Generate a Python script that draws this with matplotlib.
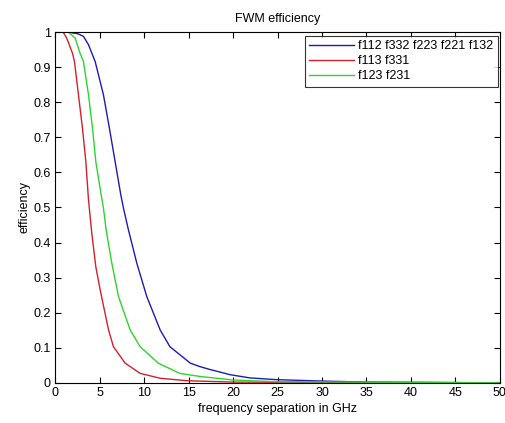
import matplotlib
matplotlib.use("Agg")
import matplotlib.pyplot as plt

# values
x_blue = [0, 1.5, 2.6, 3.18, 3.75, 4.5, 5.43, 6.1, 6.74, 7.38, 7.68, 8.24, 9.18, 10.3,
          11.8, 12.9, 15.2, 16.3, 17.4, 19.7, 21.9, 24.9, 30, 35, 50]
y_blue = [1.0, 1.0, 0.995, 0.988, 0.964, 0.916, 0.821, 0.726, 0.631, 0.536, 0.498, 0.436, 0.341, 0.246,
          0.151, 0.103, 0.056, 0.046, 0.038, 0.023, 0.014, 0.009, 0.005, 0.002, 0.0]

x_red = [0, 0.9, 1.3, 1.95, 2.17, 2.62, 3.07, 3.45, 3.75, 4.12, 4.57, 5.06, 6.0, 6.55,
         7.87, 9.55, 11.8, 14.8, 20, 50]
y_red = [1.0, 1.0, 0.983, 0.94, 0.916, 0.821, 0.726, 0.631, 0.521, 0.426, 0.331, 0.265, 0.151, 0.103,
         0.056, 0.027, 0.013, 0.006, 0.002, 0.0]

x_green = [0, 1.5, 2.25, 2.8, 3.18, 3.75, 4.2, 4.57, 5.17, 5.43, 5.73, 6.37, 7.12, 8.43,
           9.55, 11.6, 14.0, 16.3, 20, 25, 50]
y_green = [1.0, 1.0, 0.983, 0.94, 0.916, 0.821, 0.726, 0.631, 0.536, 0.498, 0.436, 0.341, 0.246, 0.151,
           0.103, 0.056, 0.027, 0.018, 0.008, 0.003, 0.0]

labels = ["f112 f332 f223 f221 f132", "f113 f331", "f123 f231"]
xticks = [0, 5, 10, 15, 20, 25, 30, 35, 40, 45, 50]
yticks = [0, 0.1, 0.2, 0.3, 0.4, 0.5, 0.6, 0.7, 0.8, 0.9, 1]
ytick_labels = ["0", "0.1", "0.2", "0.3", "0.4", "0.5", "0.6", "0.7", "0.8", "0.9", "1"]

plt.rcParams["font.family"] = ["Liberation Sans", "DejaVu Sans"]
plt.rcParams["font.size"] = 9

fig = plt.figure(figsize=(5.06, 4.23), dpi=100)
ax = fig.add_axes([0.109, 0.095, 0.879, 0.829])

ax.plot(x_blue, y_blue, color="#1c1cb4", linewidth=1.0, label=labels[0])
ax.plot(x_red, y_red, color="#d4202c", linewidth=1.0, label=labels[1])
ax.plot(x_green, y_green, color="#2ed42e", linewidth=1.0, label=labels[2])

ax.set_xlim(0, 50)
ax.set_ylim(0, 1)
ax.set_xticks(xticks)
ax.set_yticks(yticks)
ax.set_yticklabels(ytick_labels)
ax.tick_params(direction="in", top=True, right=True, length=4, width=0.8, pad=3)
for s in ax.spines.values():
    s.set_linewidth(0.8)

ax.set_title("FWM efficiency", fontsize=9, pad=7)
ax.set_xlabel("frequency separation in GHz", labelpad=3)
ax.set_ylabel("efficiency", labelpad=2)

leg = ax.legend(loc="upper right", bbox_to_anchor=(0.995, 0.99), fancybox=False,
                edgecolor="black", handlelength=3.6, handletextpad=0.3,
                borderpad=0.35, labelspacing=0.25, borderaxespad=0.0)
leg.get_frame().set_linewidth(0.8)

fig.savefig("out.png", dpi=100, facecolor="white")
